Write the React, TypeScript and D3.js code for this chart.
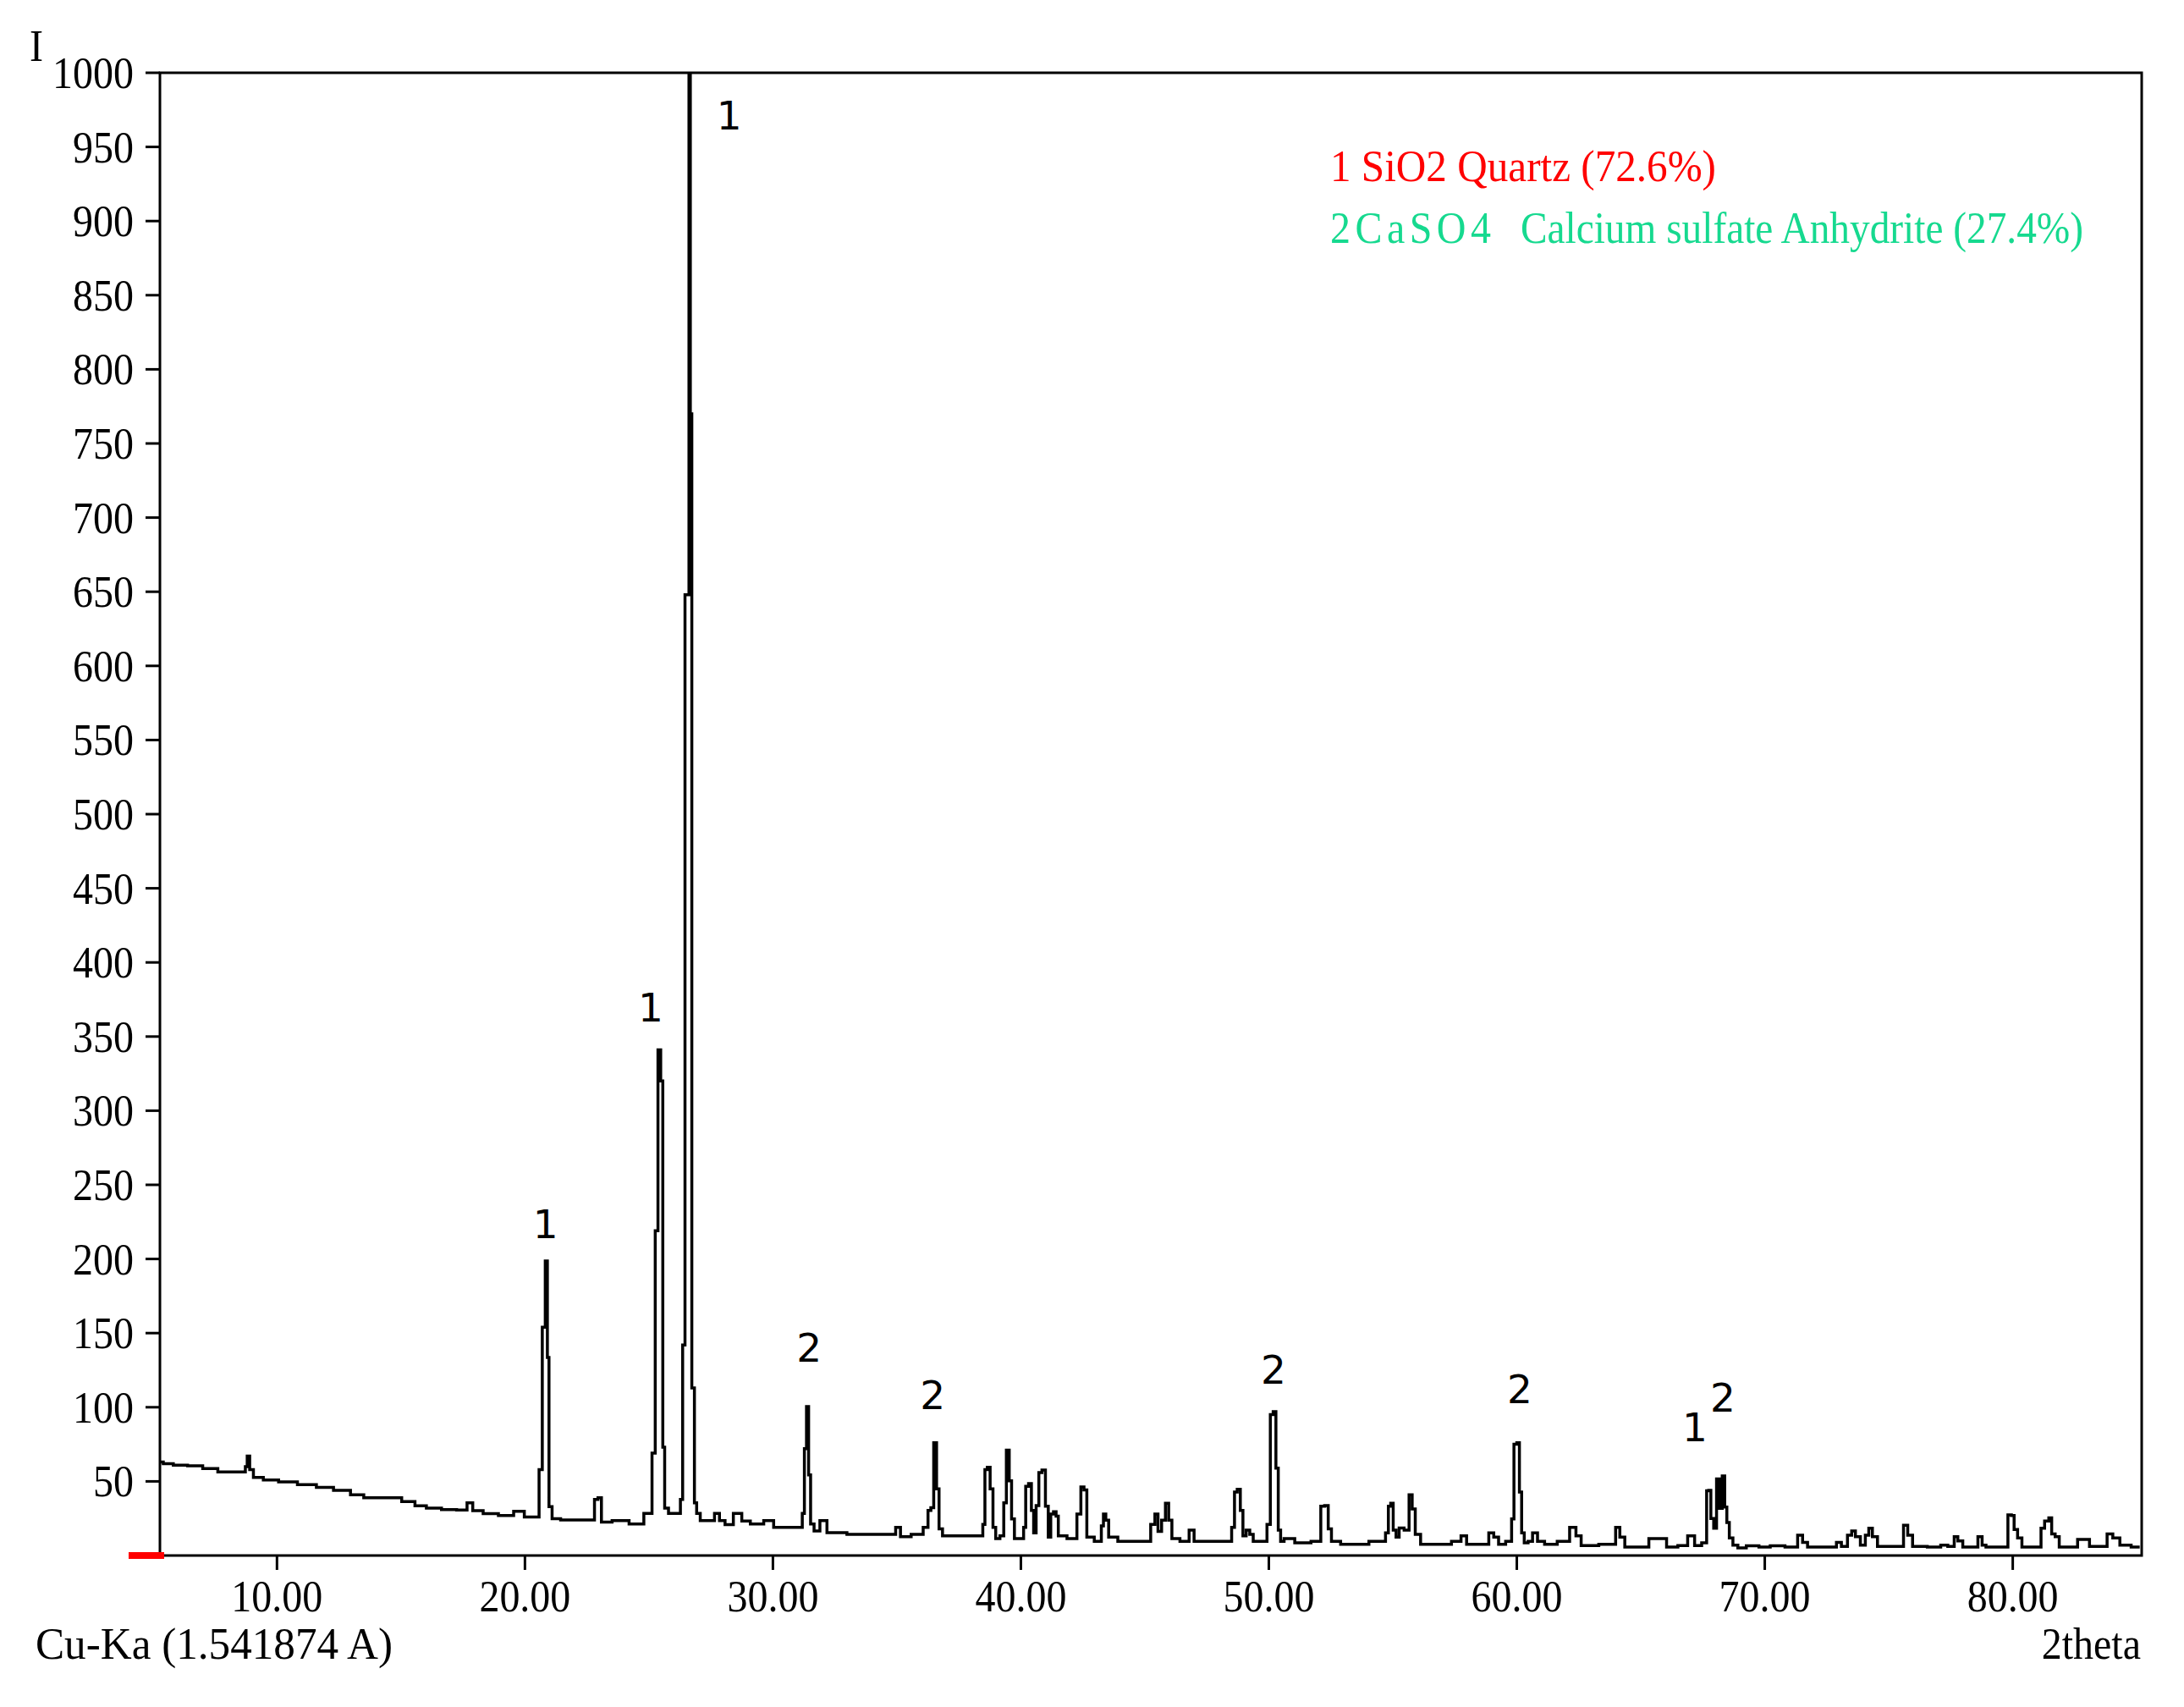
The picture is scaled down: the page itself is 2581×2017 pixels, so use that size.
import React from "react";
import * as d3 from "d3";

const twoTheta: number[] = [
  5.28, 5.55, 6.09, 6.70, 7.31, 7.92, 8.69, 8.76, 8.84, 8.96, 9.14, 9.76, 10.37, 11.28, 11.90,
  12.66, 13.27, 13.73, 14.65, 15.41, 15.72, 16.33, 16.94, 17.55, 17.78, 18.01, 18.62, 19.24,
  19.85, 20.10, 20.50, 20.64, 20.76, 20.88, 20.93, 21.01, 21.18, 21.70, 22.72, 22.89, 23.00,
  23.17, 23.86, 24.54, 25.05, 25.20, 25.31, 25.42, 25.53, 25.59, 25.68, 25.90, 26.24, 26.30,
  26.42, 26.49, 26.60, 26.63, 26.66, 26.68, 26.72, 26.74, 26.80, 26.87, 26.98, 27.16, 27.56,
  27.73, 27.96, 28.18, 28.63, 28.86, 29.32, 29.94, 30.12, 31.14, 31.23, 31.31, 31.40, 31.48,
  31.56, 31.76, 32.03, 32.33, 33.64, 34.32, 34.84, 35.06, 35.23, 35.92, 36.20, 36.31, 36.43,
  36.54, 36.66, 36.74, 36.94, 38.42, 38.51, 38.59, 38.70, 38.82, 38.93, 39.04, 39.27, 39.35,
  39.48, 39.58, 39.67, 39.81, 40.07, 40.15, 40.24, 40.38, 40.47, 40.56, 40.67, 40.78, 40.92,
  41.06, 41.15, 41.26, 41.37, 41.47, 41.55, 42.17, 42.35, 42.49, 42.60, 42.72, 43.20, 43.29,
  43.37, 43.48, 43.60, 44.22, 45.13, 45.34, 45.47, 45.59, 45.76, 45.90, 46.02, 46.16, 46.67,
  46.90, 47.07, 48.43, 48.57, 48.66, 48.79, 48.91, 49.00, 49.17, 49.29, 49.45, 49.85, 50.00,
  50.12, 50.23, 50.34, 50.42, 50.53, 50.70, 51.39, 52.01, 52.18, 52.32, 52.47, 52.58, 53.21,
  53.95, 54.12, 54.63, 54.78, 54.86, 54.97, 55.06, 55.20, 55.31, 55.60, 55.71, 55.85, 55.96,
  56.28, 57.25, 57.48, 57.65, 57.85, 58.10, 58.78, 58.96, 59.18, 59.35, 59.75, 59.83, 59.94,
  60.06, 60.15, 60.24, 60.36, 60.55, 60.72, 60.95, 61.29, 61.97, 62.29, 62.48, 62.71, 63.90,
  64.07, 64.24, 64.47, 65.15, 65.50, 65.84, 66.24, 66.75, 67.03, 67.31, 67.60, 67.71, 67.77,
  67.88, 68.00, 68.11, 68.23, 68.34, 68.43, 68.51, 68.63, 68.80, 69.03, 69.48, 70.05, 70.39,
  71.24, 71.41, 71.64, 71.81, 72.83, 72.95, 73.23, 73.44, 73.57, 73.74, 73.97, 74.14, 74.25,
  74.43, 74.66, 75.51, 75.68, 75.85, 76.07, 77.04, 77.15, 77.61, 77.67, 77.90, 78.07, 78.52,
  78.67, 78.86, 78.98, 79.72, 79.89, 80.00, 80.11, 80.28, 80.46, 81.08, 81.20, 81.37, 81.54,
  81.60, 81.82, 81.93, 82.56, 82.67, 82.95, 83.24, 83.75, 83.86, 84.21, 84.43, 85.12,
];

const intensity: number[] = [
  63, 62, 61, 60.5, 58.6, 56.4, 56.4, 60, 67, 58, 52.6, 51, 49.7, 47.8, 45.9,
  44, 41, 39, 39, 36.4, 33.6, 32, 31, 30.7, 35.5, 30.2, 28.3, 27,
  29.8, 26, 26, 58, 154, 198.6, 133.6, 33, 24.8, 24, 24, 37.8, 39,
  22.5, 23.6, 21.3, 28.4, 69, 219, 341, 320, 73, 32, 28.4, 28.4, 37.8,
  142, 648, 648, 1000, 1000, 770, 770, 113, 113, 35.5, 28.4, 23.6, 23.6,
  28.4, 23.6, 20.8, 28.4, 23.2, 21.3, 23.6, 19, 19, 28.4, 72, 100.5, 54.4,
  21.3, 16.5, 23.6, 15.4, 14.2, 14.3, 14.3, 19, 12.7, 14.3, 19, 30.4, 32.3,
  76, 45, 18, 13.3, 13.3, 21, 58, 59.5, 45, 19, 11.4, 13.3, 35.6,
  71, 50.4, 24.7, 11.4, 11.4, 19, 46.6, 48.5, 30.4, 15.2, 33.7, 56, 57.6,
  33.3, 12.4, 28, 29.5, 26.6, 13.3, 11.4, 28, 46.2, 44.3, 12.4, 9.5, 20,
  28, 23.8, 12.4, 9.5, 9.5, 21, 28, 16.2, 23.8, 35.2, 23.8, 11.4, 9.5,
  17.1, 9.5, 9.5, 19, 42.8, 44.7, 30.4, 13.3, 17.1, 14.3, 9.5, 9.5, 21,
  95, 97, 59, 17.1, 9.5, 11.4, 8.6, 9.5, 33.3, 33.7, 18, 9.5, 7.6,
  7.6, 9.5, 9.5, 15.2, 33.3, 35.2, 17.1, 12.4, 18.5, 17.1, 40.9, 31.4, 14.3,
  7.6, 7.6, 9.5, 9.5, 13.3, 7.6, 7.6, 15.2, 12.4, 7.6, 9.5, 24.7, 75,
  76, 42.8, 15.2, 8.6, 9.5, 15.2, 9.5, 7.6, 9.5, 19, 13.3, 6.7, 7.6,
  19, 12.4, 5.7, 5.7, 11.4, 11.4, 5.7, 6.7, 13.3, 6.7, 8.6, 43.7, 44,
  25, 18.4, 51.7, 31.8, 53.6, 32.7, 22.3, 11.8, 7, 5.1, 6.5, 5.7, 6.5,
  5.7, 13.7, 8.9, 5.7, 5.7, 8.9, 6.1, 13.7, 16.6, 12.7, 7, 13.7, 18.4,
  12.7, 6.1, 6.1, 20.4, 13.7, 6.1, 5.7, 7, 6.1, 12.7, 9.9, 5.7, 5.7,
  12.7, 7, 5.7, 5.7, 27.4, 27, 17.5, 11.8, 5.7, 5.7, 18.4, 23.2, 25.4,
  14.6, 12.7, 5.7, 5.7, 10.8, 10.8, 6.1, 6.1, 14.6, 11.8, 7, 5.7,
];

// Phase markers placed above peaks
const markerTheta: number[] = [20.83, 25.07, 28.24, 31.46, 36.44, 50.19, 60.12, 67.18, 68.31];
const markerLevel: number[] = [214, 360, 961.6, 130.7, 98.7, 115.8, 102.7, 77, 97];
const markerText: string[] = ["1", "1", "1", "2", "2", "2", "2", "1", "2"];

const yTicks: number[] = d3.range(50, 1001, 50);
const xTicks: number[] = [10, 20, 30, 40, 50, 60, 70, 80];

const legendLine1 = "1 SiO2 Quartz (72.6%)";
const legendLine2a = "2CaSO4";
const legendLine2b = "Calcium sulfate Anhydrite (27.4%)";

const W = 2581;
const H = 2017;
const L = 189, R = 2531, T = 86, B = 1838;

const SERIF = "'Liberation Serif', 'Times New Roman', serif";
const SY = 1.1;

function ST(props: {
  x: number; y: number; anchor?: string; fill?: string; len?: number; adj?: string; size?: number;
  children: React.ReactNode;
}) {
  const { x, y, anchor = "start", fill = "#000", len, adj = "spacingAndGlyphs", size = 48, children } = props;
  return (
    <text
      transform={`translate(${x},${y}) scale(1,${SY})`}
      textAnchor={anchor}
      fontFamily={SERIF}
      fontSize={size}
      fill={fill}
      textLength={len}
      lengthAdjust={len ? adj : undefined}
    >
      {children}
    </text>
  );
}

export default function App() {
  const x = d3.scaleLinear().domain([5.28, 85.2]).range([L, R]);
  const y = d3.scaleLinear().domain([0, 1000]).range([B, T]);
  const pts: [number, number][] = twoTheta.map((t, i) => [t, intensity[i]]);
  const line = d3
    .line<[number, number]>()
    .x((d) => x(d[0]))
    .y((d) => y(d[1]))
    .curve(d3.curveStep);
  const path = line(pts) || "";

  return (
    <svg
      width={W}
      height={H}
      viewBox={`0 0 ${W} ${H}`}
      style={{ position: "absolute", left: 0, top: 0, display: "block", background: "#fff" }}
    >
      <rect x={0} y={0} width={W} height={H} fill="#fff" />
      <defs>
        <clipPath id="plotclip">
          <rect x={L} y={T} width={R - L} height={B - T} />
        </clipPath>
      </defs>

      {/* spectrum */}
      <path d={path} fill="none" stroke="#000" strokeWidth={3.5} strokeLinejoin="miter" clipPath="url(#plotclip)" />

      {/* frame */}
      <rect x={L} y={T} width={R - L} height={B - T} fill="none" stroke="#000" strokeWidth={3} />

      {/* y ticks and labels */}
      {yTicks.map((v) => (
        <g key={"y" + v}>
          <line x1={L - 17} x2={L} y1={y(v)} y2={y(v)} stroke="#000" strokeWidth={3} />
          <ST x={158} y={y(v) + 18} anchor="end">{String(v)}</ST>
        </g>
      ))}

      {/* x ticks and labels */}
      {xTicks.map((v) => (
        <g key={"x" + v}>
          <line x1={x(v)} x2={x(v)} y1={B} y2={B + 17} stroke="#000" strokeWidth={3} />
          <ST x={x(v)} y={1904} anchor="middle">{v.toFixed(2)}</ST>
        </g>
      ))}

      {/* red origin mark */}
      <rect x={152} y={1834} width={42} height={8} fill="#ff0000" />

      {/* axis titles */}
      <ST x={43} y={72} anchor="middle">I</ST>
      <ST x={42} y={1960} len={422}>Cu-Ka (1.541874 A)</ST>
      <ST x={2530} y={1960} anchor="end">2theta</ST>

      {/* legend */}
      <ST x={1572} y={214} fill="#ff0000" len={456}>{legendLine1}</ST>
      <ST x={1572} y={287} fill="#16d98f" len={190} adj="spacing">{legendLine2a}</ST>
      <ST x={1797} y={287} fill="#16d98f" len={665}>{legendLine2b}</ST>

      {/* peak markers */}
      {markerTheta.map((t, i) => (
        <text
          key={"m" + i}
          x={x(t)}
          y={y(markerLevel[i])}
          textAnchor="middle"
          fontFamily="'DejaVu Sans', Verdana, sans-serif"
          fontSize={47}
          fill="#000"
        >
          {markerText[i]}
        </text>
      ))}
    </svg>
  );
}
